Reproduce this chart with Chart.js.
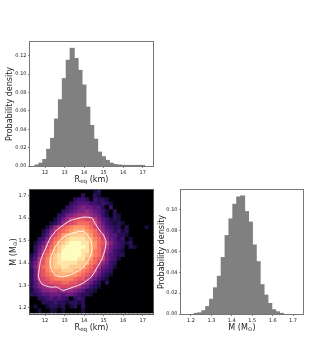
<!DOCTYPE html>
<html>
<head>
<meta charset="utf-8">
<style>
  html, body { margin: 0; background: #fff; }
  canvas { position: absolute; }
</style>
<script src="https://cdn.jsdelivr.net/npm/chart.js@4"></script>
</head>
<body>
<canvas id="radiusHist" width="160" height="160" style="left:0;top:30px"></canvas>
<canvas id="heatMap" width="160" height="160" style="left:0;top:178px"></canvas>
<canvas id="massHist" width="160" height="160" style="left:151px;top:178px"></canvas>
<script>
// histogram of radius (bin centres and density)
const radiusBins = [11.59, 11.79, 11.99, 12.19, 12.39, 12.59, 12.79, 12.99, 13.19, 13.39, 13.59, 13.79, 13.99, 14.19, 14.39, 14.59, 14.79, 14.99, 15.19, 15.39, 15.59, 15.79, 15.99, 16.19, 16.39, 16.59, 16.79, 16.99]
const radiusDensity = [0.001, 0.003, 0.007, 0.018, 0.03, 0.051, 0.072, 0.095, 0.115, 0.128, 0.117, 0.104, 0.088, 0.064, 0.044, 0.029, 0.015, 0.01, 0.006, 0.003, 0.0015, 0.001, 0.0006, 0.0004, 0.0003, 0.0002, 0.0002, 0.0001]

// histogram of mass
const massBins = [1.225, 1.244, 1.263, 1.282, 1.301, 1.32, 1.339, 1.358, 1.377, 1.396, 1.415, 1.434, 1.453, 1.472, 1.491, 1.51, 1.529, 1.548, 1.567, 1.586, 1.605, 1.624, 1.643]
const massDensity = [0.0005, 0.001, 0.003, 0.007, 0.014, 0.025, 0.036, 0.054, 0.075, 0.091, 0.105, 0.112, 0.113, 0.098, 0.088, 0.066, 0.05, 0.028, 0.018, 0.01, 0.004, 0.002, 0.0005]

// 2d histogram, rows top to bottom, values are brightness levels 0-20
const heatRadius = [11.33, 11.53, 11.74, 11.94, 12.14, 12.35, 12.55, 12.75, 12.96, 13.16, 13.36, 13.57, 13.77, 13.97, 14.18, 14.38, 14.58, 14.79, 14.99, 15.19, 15.4, 15.6, 15.8, 16.01, 16.21, 16.41, 16.62, 16.82, 17.02, 17.23, 17.43]
const heatMass = [1.716, 1.699, 1.681, 1.663, 1.646, 1.628, 1.61, 1.593, 1.575, 1.557, 1.54, 1.522, 1.505, 1.487, 1.469, 1.452, 1.434, 1.416, 1.399, 1.381, 1.363, 1.346, 1.328, 1.31, 1.293, 1.275, 1.257, 1.24, 1.222, 1.204, 1.187]
const heatLevels = [
  [0,0,0,0,0,0,0,0,0,0,0,0,0,0,0,0,2,3,0,0,0,0,0,0,0,0,0,0,0,0,0],
  [0,0,0,0,0,0,0,0,0,0,0,0,0,3,0,0,3,2,0,0,0,0,0,0,0,0,0,0,0,0,0],
  [0,0,0,0,0,0,0,0,0,0,0,3,4,4,3,0,4,3,3,2,0,0,0,0,0,0,0,0,0,0,0],
  [0,0,0,0,0,0,0,0,0,0,3,4,5,5,5,4,4,3,4,3,2,0,0,0,0,0,0,0,0,0,0],
  [0,0,0,0,0,0,0,0,0,3,4,5,6,7,6,6,5,5,3,0,4,0,0,0,0,0,0,0,0,0,0],
  [0,0,0,0,0,0,0,0,3,4,5,6,7,7,8,7,6,5,4,2,0,3,0,0,0,0,0,0,0,0,0],
  [0,0,0,0,0,0,0,3,4,6,7,8,9,9,9,8,7,6,4,2,0,3,2,0,0,0,0,0,0,0,0],
  [0,0,0,0,0,0,2,4,6,8,10,11,12,12,11,11,10,7,5,4,2,3,2,0,0,0,0,0,0,0,0],
  [0,0,0,0,0,2,3,5,8,10,11,12,13,13,13,12,11,8,6,4,3,2,3,2,0,0,0,0,0,0,0],
  [0,0,0,0,2,5,8,10,12,13,14,15,15,15,14,13,11,9,7,5,4,3,3,0,3,0,0,0,0,2,0],
  [0,0,0,2,4,7,10,12,13,14,15,16,16,16,15,14,13,11,8,6,5,3,4,2,3,0,0,0,0,0,0],
  [0,0,0,3,5,9,11,13,15,16,17,17,17,17,16,15,13,12,10,7,5,5,3,3,2,0,0,0,0,0,0],
  [0,0,3,4,7,11,13,14,16,17,18,18,18,18,17,16,14,13,11,8,6,5,3,4,0,2,0,0,0,0,0],
  [0,2,4,6,9,12,14,16,17,18,19,19,19,18,18,16,15,13,12,10,7,5,4,3,2,3,0,0,0,0,0],
  [0,3,5,8,11,13,15,17,18,19,19,20,19,19,18,16,15,13,11,9,6,5,4,3,0,3,2,0,0,0,0],
  [0,3,6,9,12,14,16,17,19,19,20,20,19,18,18,16,14,13,11,8,6,4,3,2,0,0,0,0,0,0,0],
  [2,4,7,11,13,15,17,18,19,20,20,19,19,18,17,16,14,13,11,7,5,4,3,3,0,0,0,0,0,0,0],
  [3,5,9,12,14,16,17,18,19,19,19,19,18,18,16,15,13,12,11,7,5,4,2,0,0,0,0,0,0,0,0],
  [4,6,10,12,14,16,17,18,18,18,18,18,17,17,16,14,13,11,8,6,4,3,0,0,0,0,0,0,0,0,0],
  [4,7,11,13,14,16,17,17,18,18,17,17,17,16,14,13,11,9,6,5,4,2,0,0,0,0,0,0,0,0,0],
  [3,6,11,12,14,15,16,16,17,17,17,16,15,14,13,12,11,7,5,4,3,0,0,0,0,0,0,0,0,0,0],
  [3,6,11,12,13,14,15,16,16,16,15,15,14,13,12,11,8,6,4,3,2,0,0,0,0,0,0,0,0,0,0],
  [3,6,10,11,12,13,14,14,14,14,14,13,12,12,10,8,6,4,3,2,0,0,0,0,0,0,0,0,0,0,0],
  [3,5,8,11,11,12,12,12,13,13,12,12,11,10,8,6,4,3,0,3,0,0,0,0,0,0,0,0,0,0,0],
  [3,5,7,8,9,9,10,11,11,11,11,10,9,7,6,4,3,2,0,0,0,0,0,0,0,0,0,0,0,0,0],
  [2,4,5,7,7,8,8,7,9,8,8,7,6,5,3,3,2,0,0,0,0,0,0,0,0,0,0,0,0,0,0],
  [3,3,4,5,5,6,6,6,5,6,6,5,4,3,3,2,0,0,0,0,0,0,0,0,0,0,0,0,0,0,0],
  [0,0,3,3,4,5,4,5,4,3,0,3,4,3,0,0,0,0,0,0,0,0,0,0,0,0,0,0,0,0,0],
  [0,0,0,3,3,3,4,3,3,2,3,3,2,3,0,0,0,0,0,0,0,0,0,0,0,0,0,0,0,0,0],
  [0,2,0,0,2,3,3,2,3,0,2,3,0,3,0,0,0,0,0,0,0,0,0,0,0,0,0,0,0,0,0],
  [0,0,2,0,0,2,2,0,2,0,0,0,0,2,0,0,0,0,0,0,0,0,0,0,0,0,0,0,0,0,0]
]

// white contours
const outerRadius = [13.54, 13.96, 14.39, 14.56, 14.78, 14.99, 15.12, 15.07, 14.9, 14.65, 14.39, 13.88, 13.45, 12.94, 12.77, 12.6, 12.26, 11.83, 11.66, 11.71, 11.78, 12.0, 12.26, 12.6, 13.02, 13.28, 13.54]
const outerMass = [1.595, 1.604, 1.601, 1.577, 1.547, 1.525, 1.496, 1.459, 1.415, 1.378, 1.34, 1.307, 1.293, 1.278, 1.284, 1.293, 1.293, 1.307, 1.34, 1.377, 1.414, 1.459, 1.51, 1.547, 1.574, 1.589, 1.595]
const innerRadius = [13.37, 13.96, 14.22, 14.39, 14.34, 13.96, 13.54, 13.02, 12.6, 12.34, 12.26, 12.34, 12.6, 12.94, 13.37]
const innerMass = [1.533, 1.54, 1.518, 1.481, 1.436, 1.381, 1.358, 1.34, 1.343, 1.37, 1.399, 1.436, 1.481, 1.515, 1.533]

const magma = [[0,0,4],[20,14,54],[59,15,112],[100,26,128],[140,41,129],[183,55,121],[222,73,104],[247,112,92],[254,159,109],[254,207,146],[252,253,191]]

function magmaColor(level) {
  var t = Math.min(level / 19, 1) * 10
  var i = Math.min(Math.floor(t), 9)
  var f = t - i
  var c = magma[i].map(function (v, k) { return Math.round(v + (magma[i + 1][k] - v) * f) })
  return 'rgb(' + c.join(',') + ')'
}

// frame on all four sides plus the axis labels, which need subscripts
const panelDecor = {
  id: 'panelDecor',
  afterDraw: function (chart, args, opts) {
    var ctx = chart.ctx
    var a = chart.chartArea
    ctx.save()
    ctx.strokeStyle = opts.frame
    ctx.lineWidth = 1
    ctx.strokeRect(a.left - 0.5, a.top - 0.5, a.width + 1, a.height + 1)
    ctx.fillStyle = '#222'
    ctx.textBaseline = 'alphabetic'
    drawLabel(ctx, opts.xLabel, (a.left + a.right) / 2, a.bottom + 15.5, 0)
    drawLabel(ctx, opts.yLabel, a.left - opts.yGap, (a.top + a.bottom) / 2, -Math.PI / 2)
    ctx.restore()
  }
}

function drawLabel(ctx, parts, x, y, angle) {
  var width = 0
  parts.forEach(function (p) {
    ctx.font = (p[1] ? 5.6 : 8) + 'px "DejaVu Sans"'
    width += ctx.measureText(p[0]).width
  })
  ctx.save()
  ctx.translate(x, y)
  ctx.rotate(angle)
  var pos = -width / 2
  ctx.textAlign = 'left'
  parts.forEach(function (p) {
    ctx.font = (p[1] ? 5.6 : 8) + 'px "DejaVu Sans"'
    ctx.fillText(p[0], pos, angle ? 3 + (p[1] ? 1.5 : 0) : (p[1] ? 1.5 : 0))
    pos += ctx.measureText(p[0]).width
  })
  ctx.restore()
}

const radiusLabel = [['R', 0], ['eq', 1], [' (km)', 0]]
const massLabel = [['M (M', 0], ['\u2299', 1], [')', 0]]
const densityLabel = [['Probability density', 0]]

function axis(min, max, step, digits, size) {
  return {
    type: 'linear',
    min: min,
    max: max,
    offset: false,
    grid: { display: true, offset: false, drawOnChartArea: false, tickLength: 2, tickColor: '#333', tickWidth: 0.6 },
    border: { display: false },
    ticks: {
      stepSize: step,
      includeBounds: false,
      autoSkip: false,
      maxRotation: 0,
      padding: 1.5,
      color: '#222',
      font: { family: 'DejaVu Sans', size: 5 },
      callback: function (v) { return v.toFixed(digits) }
    },
    afterFit: function (scale) {
      if (scale.isHorizontal()) scale.height = size
      else scale.width = size
    }
  }
}

function baseOptions(x, y, right, xLabel, yLabel, yGap, frame) {
  return {
    responsive: false,
    animation: false,
    events: [],
    layout: { padding: { top: 12, right: right, left: 0, bottom: 0 } },
    scales: { x: x, y: y },
    plugins: {
      legend: { display: false },
      tooltip: { enabled: false },
      panelDecor: { xLabel: xLabel, yLabel: yLabel, yGap: yGap, frame: frame }
    }
  }
}

function histogram(id, bins, density, options) {
  new Chart(document.getElementById(id), {
    type: 'bar',
    data: {
      datasets: [{
        data: bins.map(function (b, i) { return { x: b, y: density[i] } }),
        backgroundColor: '#808080',
        borderWidth: 0,
        inflateAmount: 0.6,
        barPercentage: 1,
        categoryPercentage: 1
      }]
    },
    options: options,
    plugins: [panelDecor]
  })
}

window.addEventListener('load', function () {
  histogram('radiusHist', radiusBins, radiusDensity,
    baseOptions(axis(11.23, 17.53, 1, 0, 24), axis(0, 0.135, 0.02, 2, 30), 7, radiusLabel, densityLabel, 20.7, '#777'))

  histogram('massHist', massBins, massDensity,
    baseOptions(axis(1.151, 1.749, 0.1, 1, 24), axis(0, 0.1188, 0.02, 2, 30), 8, massLabel, densityLabel, 20, '#777'))

  var cells = []
  var colors = []
  heatLevels.forEach(function (row, r) {
    row.forEach(function (level, c) {
      cells.push({ x: heatRadius[c], y: heatMass[r] })
      colors.push(magmaColor(level))
    })
  })
  var line = function (xs, ys) { return xs.map(function (v, i) { return { x: v, y: ys[i] } }) }
  var contourStyle = { showLine: true, pointRadius: 0, borderColor: '#fff', borderWidth: 0.9, order: 0 }

  new Chart(document.getElementById('heatMap'), {
    type: 'scatter',
    data: {
      datasets: [
        Object.assign({ data: line(outerRadius, outerMass), tension: 0.2 }, contourStyle),
        Object.assign({ data: line(innerRadius, innerMass), tension: 0.4 }, contourStyle),
        {
          data: cells,
          order: 1,
          pointStyle: 'rect',
          pointRadius: 3.5,
          pointBorderWidth: 0,
          borderWidth: 0,
          backgroundColor: colors,
          pointBackgroundColor: colors
        }
      ]
    },
    options: baseOptions(axis(11.23, 17.53, 1, 0, 24), axis(1.173, 1.725, 0.1, 1, 30), 7, radiusLabel, massLabel, 17.3, '#555'),
    plugins: [panelDecor]
  })
})
</script>
</body>
</html>
